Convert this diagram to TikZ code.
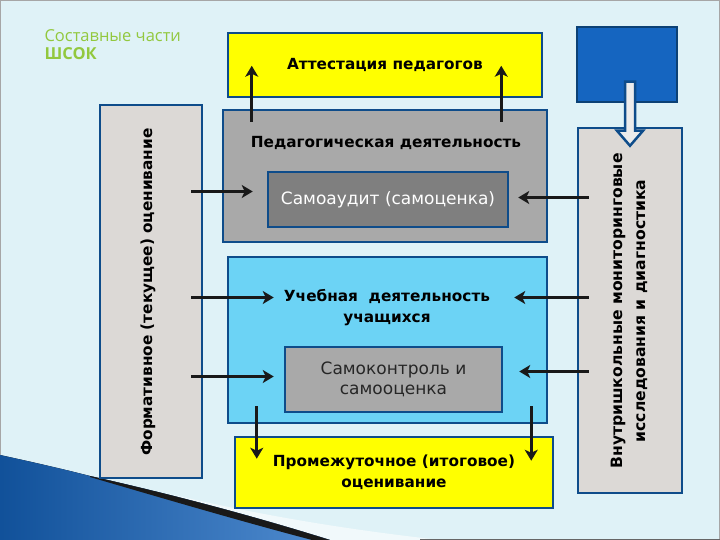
\documentclass[tikz,border=0pt]{standalone}
\usepackage{fontspec}
\setmainfont{DejaVu Sans}
\newfontfamily\titlefont{Open Sans}
\usepackage{tikz}
\usetikzlibrary{calc,arrows.meta}
\usepackage{xcolor}

\definecolor{fond}{HTML}{DFF2F7}
\definecolor{bordure}{HTML}{0E4C8A}
\definecolor{jaune}{HTML}{FFFF00}
\definecolor{grisclair}{HTML}{DCD9D6}
\definecolor{grismoyen}{HTML}{A9A9A9}
\definecolor{grisfonce}{HTML}{7F7F7F}
\definecolor{ciel}{HTML}{6CD3F5}
\definecolor{bleu}{HTML}{1565C0}
\definecolor{titre}{HTML}{92C83E}

\tikzset{
  box/.style={draw=bordure, line width=2.5pt, inner sep=0pt},
  boldtext/.style={font=\bfseries\fontsize{15.3}{21}\selectfont, align=center},
  plaintext/.style={font=\fontsize{17}{20}\selectfont, align=center},
  arr/.style={draw=black!90, line width=2.6pt,
    -{Stealth[length=11pt,width=13pt,inset=3pt]}},
}

\begin{document}
\begin{tikzpicture}[x=1pt,y=-1pt]
      \useasboundingbox (0,0) rectangle (720,540);
      \fill[fond] (0,0) rectangle (720,540);
      \draw[gray!70, line width=1.5pt] (0,0) rectangle (720,540);

      % Fond
      \fill[white!55!fond] (170,494) .. controls (280,520) and (370,532) .. (440,540)
        -- (320,540) -- cycle;
      \fill[left color=bleu!80!black, right color=bleu!75!white]
        (0,455) .. controls (60,468) and (90,476) .. (90,476)
        .. controls (170,494) and (250,515) .. (330,540) -- (0,540) -- cycle;
      \fill[black!90] (90,476) .. controls (170,494) and (250,515) .. (330,540)
        -- (312,540) .. controls (240,521) and (165,499) .. (90,477) -- cycle;
      \draw[gray!80!black, line width=1.5pt] (420,539.5) -- (720,539.5);

      % Titre
      \node[font=\titlefont\fontsize{16.5}{18}\selectfont, text=titre,
        align=left, anchor=north west] (title) at (41,26) {Составные части\\\textbf{ШСОК}};

      % Cadres
      \node[box, fill=grisclair, minimum width=102pt, minimum height=373pt] (form) at (151,291.5) {};
      \node[boldtext, rotate=90] (formlbl) at (148,292) {Формативное (текущее) оценивание};

      \node[box, fill=grisclair, minimum width=104pt, minimum height=365pt] (monit) at (630,310.5) {};
      \node[boldtext, rotate=90, font=\bfseries\fontsize{15.6}{23}\selectfont] (monitlbl) at (629,311)
        {Внутришкольные мониторинговые\\исследования и диагностика};

      \node[box, draw=bordure!85!black, fill=bleu, minimum width=100pt, minimum height=75pt] (bluesq) at (627,64.5) {};

      \node[box, fill=jaune, minimum width=314pt, minimum height=64pt, boldtext] (attest) at (385,65)
        {Аттестация педагогов};

      \node[box, fill=grismoyen, minimum width=324pt, minimum height=132pt] (ped) at (385,176) {};
      \node[boldtext] (pedlbl) at (386,143) {Педагогическая деятельность};
      \node[box, fill=grisfonce, minimum width=240pt, minimum height=55pt, plaintext, text=white] (audit)
        at (388,199.5) {Самоаудит (самоценка)};

      \node[box, fill=ciel, minimum width=319pt, minimum height=166pt] (ucheb) at (387.5,340) {};
      \node[boldtext] (uchlbl) at (387,307.5) {Учебная\ \ деятельность\\учащихся};
      \node[box, fill=grismoyen, minimum width=217pt, minimum height=65pt, plaintext, text=black!85] (samok)
        at (393.5,379.5) {Самоконтроль и\\самооценка};

      \node[box, fill=jaune, minimum width=318pt, minimum height=71pt, boldtext] (itog) at (394,472.5)
        {Промежуточное (итоговое)\\оценивание};

      % Fleches
      \draw[arr] ($(ped.north west)+(30,13)$) -- ($(attest.north west)+(25,34)$);
      \draw[arr] ($(ped.north east)+(-47,13)$) -- ($(attest.north east)+(-42,34)$);

      \draw[arr] ($(form.east |- audit)+(-12,-8)$) -- ($(audit.west)+(-14,-8)$);
      \draw[arr] ($(monit.west |- audit)+(12,-2)$) -- ($(audit.east)+(9,-2)$);
      \draw[arr] ($(form.east |- uchlbl)+(-12,-10)$) -- ($(ucheb.west |- uchlbl)+(47,-10)$);
      \draw[arr] ($(monit.west |- uchlbl)+(12,-10)$) -- ($(ucheb.east |- uchlbl)+(-34,-10)$);
      \draw[arr] ($(form.east |- samok)+(-12,-3)$) -- ($(samok.west)+(-10,-3)$);
      \draw[arr] ($(monit.west |- samok)+(12,-8)$) -- ($(samok.east)+(16,-8)$);

      \draw[arr] ($(ucheb.south west)+(30,-18)$) -- ($(itog.north west)+(23,23)$);
      \draw[arr] ($(ucheb.south east)+(-17,-18)$) -- ($(itog.north east)+(-23,25)$);

      % Fleche creuse
      \draw[draw=bordure, fill=gray!15, line width=2.5pt, line join=miter]
        ($(monit.north)+(-5,-45)$) -- ++(0,49) -- ++(-8,0) -- ++(13,15)
        -- ++(13,-15) -- ++(-8,0) -- ++(0,-49) -- cycle;
    \end{tikzpicture}
\end{document}
